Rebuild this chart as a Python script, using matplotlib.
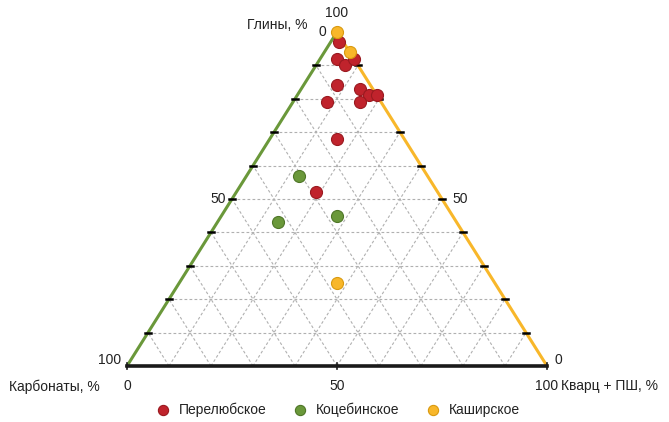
import numpy as np
import matplotlib.pyplot as plt

plt.rcParams['font.family'] = ['Liberation Sans', 'DejaVu Sans']

# состав, %: глины, кварц + ПШ, карбонаты
perel_clay = [97, 92, 90, 92, 84, 83, 81, 81, 79, 79, 68, 52]
perel_qtz = [2, 4, 7, 8, 8, 14, 17, 19, 8, 16, 16, 19]
koce_clay = [57, 45, 43]
koce_qtz = [12.5, 27.5, 14.5]
kash_clay = [100, 94, 25]
kash_qtz = [0, 6, 37.5]

names = ['Перелюбское', 'Коцебинское', 'Каширское']
colors = ['#c0232c', '#6a983a', '#f8b72a']
edges = ['#9a1a20', '#4f7628', '#d99a10']


def to_xy(clay, qtz):
    c = np.array(clay) / 100
    q = np.array(qtz) / 100
    return q + c / 2, c


fig = plt.figure(figsize=(6.69, 4.22), dpi=100)
ax = fig.add_axes([127 / 669, 56 / 422, 420 / 669, 334 / 422])
ax.set_xlim(0, 1)
ax.set_ylim(0, 1)
ax.axis('off')

# сетка через 10 %
grid = dict(color='#b0b0b0', lw=0.8, ls=(0, (2.5, 2)), zorder=1)
for k in range(1, 10):
    f = k / 10
    ax.plot([f / 2, 1 - f / 2], [f, f], **grid)
    ax.plot([f, f + (1 - f) / 2], [0, 1 - f], **grid)
    ax.plot([1 - f, (1 - f) / 2], [0, 1 - f], **grid)
    # штрихи на боковых сторонах
    ax.plot([f / 2 - 0.008, f / 2 + 0.008], [f, f], color='black', lw=1.8, zorder=3, clip_on=False)
    ax.plot([1 - f / 2 - 0.008, 1 - f / 2 + 0.008], [f, f], color='black', lw=1.8, zorder=3, clip_on=False)

ax.plot([0, 0.5], [0, 1], color='#6a983a', lw=2.2, zorder=2, clip_on=False)
ax.plot([0.5, 1], [1, 0], color='#f8b72a', lw=2.2, zorder=2, clip_on=False)
ax.plot([0, 1], [0, 0], color='#1a1a1a', lw=2.6, zorder=2, clip_on=False)
for xb in [0, 0.5, 1]:
    ax.plot([xb, xb], [-0.01, 0.01], color='#1a1a1a', lw=1.2, zorder=3, clip_on=False)

series = [(perel_clay, perel_qtz), (koce_clay, koce_qtz), (kash_clay, kash_qtz)]
for (clay, qtz), name, col, ec in zip(series, names, colors, edges):
    x, y = to_xy(clay, qtz)
    ax.scatter(x, y, s=75, color=col, edgecolors=ec, linewidths=0.8, zorder=5,
               clip_on=False, label=name)

fs = 10
tc = '#222222'
ax.text(0.5, 1.035, '100', ha='center', va='bottom', fontsize=fs, color=tc)
ax.text(0.475, 1.0, '0', ha='right', va='center', fontsize=fs, color=tc)
ax.text(0.43, 1.02, 'Глины, %', ha='right', va='center', fontsize=fs, color=tc)
ax.text(0.235, 0.5, '50', ha='right', va='center', fontsize=fs, color=tc)
ax.text(-0.015, 0.018, '100', ha='right', va='center', fontsize=fs, color=tc)
ax.text(0.775, 0.5, '50', ha='left', va='center', fontsize=fs, color=tc)
ax.text(1.018, 0.018, '0', ha='left', va='center', fontsize=fs, color=tc)
ax.text(0, -0.04, '0', ha='center', va='top', fontsize=fs, color=tc)
ax.text(0.5, -0.04, '50', ha='center', va='top', fontsize=fs, color=tc)
ax.text(1, -0.04, '100', ha='center', va='top', fontsize=fs, color=tc)
ax.text(-0.065, -0.04, 'Карбонаты, %', ha='right', va='top', fontsize=fs, color=tc)
ax.text(1.033, -0.04, 'Кварц + ПШ, %', ha='left', va='top', fontsize=fs, color=tc)

leg = fig.legend(loc='lower center', bbox_to_anchor=(0.5, -0.018), ncol=3, frameon=False,
                 fontsize=fs, handletextpad=0.15, columnspacing=1.4, markerscale=0.85)
for t in leg.get_texts():
    t.set_color(tc)

fig.savefig('out.png', dpi=100)
